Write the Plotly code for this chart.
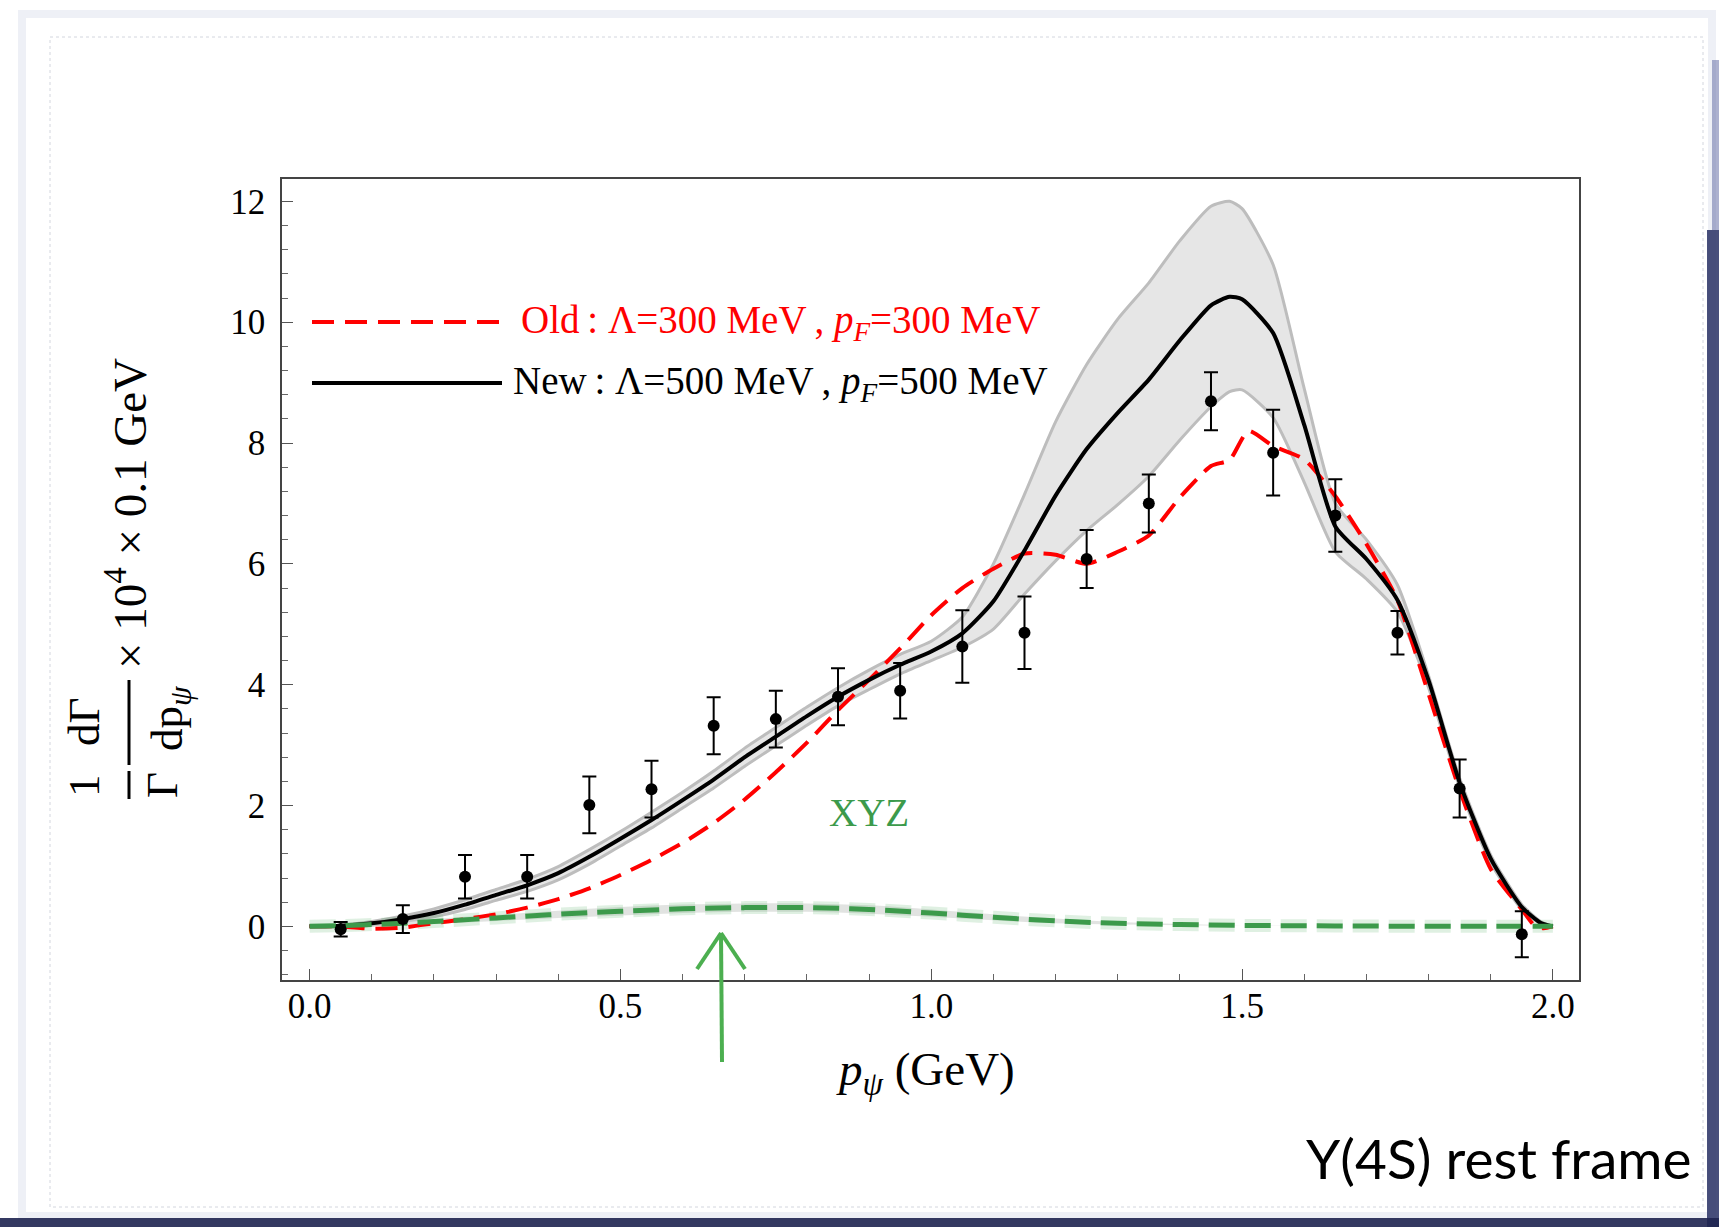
import plotly.graph_objects as go

# ---------------- data ----------------
pts_x = [0.05, 0.15, 0.25, 0.35, 0.45, 0.55, 0.65, 0.75, 0.85, 0.95,
         1.05, 1.15, 1.25, 1.35, 1.45, 1.55, 1.65, 1.75, 1.85, 1.95]
pts_y = [-0.05, 0.12, 0.82, 0.82, 2.01, 2.27, 3.32, 3.43, 3.80, 3.90,
         4.63, 4.86, 6.08, 7.00, 8.69, 7.84, 6.80, 4.86, 2.28, -0.13]
pts_err = [0.12, 0.23, 0.36, 0.36, 0.47, 0.47, 0.47, 0.47, 0.47, 0.46,
           0.60, 0.60, 0.48, 0.48, 0.48, 0.71, 0.60, 0.36, 0.48, 0.38]

new_x = [0.0, 0.05, 0.1, 0.15, 0.2, 0.25, 0.3, 0.35, 0.4, 0.45, 0.5, 0.55, 0.6,
         0.65, 0.7, 0.75, 0.8, 0.85, 0.9, 0.95, 1.0, 1.05, 1.1, 1.15, 1.2, 1.25,
         1.3, 1.35, 1.4, 1.45, 1.48, 1.5, 1.55, 1.6, 1.65, 1.7, 1.75, 1.8, 1.85,
         1.9, 1.95, 1.98, 2.0]
new_y = [0.0, 0.01, 0.05, 0.12, 0.22, 0.36, 0.52, 0.68, 0.88, 1.15, 1.45, 1.76,
         2.09, 2.43, 2.80, 3.14, 3.48, 3.80, 4.08, 4.33, 4.55, 4.85, 5.38, 6.22,
         7.13, 7.90, 8.50, 9.05, 9.70, 10.28, 10.42, 10.38, 9.82, 8.30, 6.62,
         6.08, 5.40, 4.07, 2.38, 1.12, 0.32, 0.06, 0.0]
new_hi = [0.0, 0.02, 0.08, 0.17, 0.29, 0.44, 0.61, 0.78, 0.99, 1.27, 1.57, 1.89,
          2.22, 2.57, 2.95, 3.29, 3.63, 3.95, 4.24, 4.50, 4.72, 5.12, 6.00, 7.15,
          8.35, 9.30, 10.05, 10.65, 11.35, 11.92, 12.0, 11.88, 10.95, 8.90, 7.00,
          6.40, 5.65, 4.15, 2.45, 1.18, 0.36, 0.08, 0.0]
new_lo = [0.0, 0.0, 0.02, 0.08, 0.16, 0.28, 0.43, 0.58, 0.77, 1.03, 1.33, 1.63,
          1.96, 2.29, 2.65, 2.99, 3.33, 3.65, 3.92, 4.18, 4.40, 4.62, 4.92, 5.50,
          6.05, 6.55, 6.98, 7.45, 8.05, 8.60, 8.85, 8.88, 8.42, 7.35, 6.20, 5.75,
          5.20, 3.95, 2.30, 1.05, 0.28, 0.05, 0.0]

old_x = [0.0, 0.05, 0.1, 0.15, 0.2, 0.25, 0.3, 0.35, 0.4, 0.45, 0.5, 0.55, 0.6,
         0.65, 0.7, 0.75, 0.8, 0.85, 0.9, 0.95, 1.0, 1.05, 1.1, 1.15, 1.2, 1.25,
         1.3, 1.35, 1.4, 1.45, 1.48, 1.51, 1.55, 1.6, 1.65, 1.7, 1.75, 1.8, 1.85,
         1.9, 1.95, 1.97, 1.985, 2.0]
old_y = [0.0, 0.0, -0.04, -0.02, 0.05, 0.12, 0.20, 0.31, 0.45, 0.63, 0.85, 1.10,
         1.38, 1.71, 2.10, 2.55, 3.04, 3.58, 4.08, 4.60, 5.15, 5.60, 5.92, 6.17,
         6.15, 6.00, 6.20, 6.47, 7.10, 7.62, 7.72, 8.20, 7.95, 7.73, 7.12, 6.33,
         5.40, 3.85, 2.26, 0.95, 0.28, 0.02, -0.03, 0.0]

xyz_x = [0.0, 0.1, 0.2, 0.3, 0.4, 0.5, 0.6, 0.7, 0.8, 0.9, 1.0, 1.1, 1.2, 1.3,
         1.4, 1.5, 1.6, 1.7, 1.8, 1.9, 2.0]
xyz_y = [0.0, 0.03, 0.08, 0.14, 0.20, 0.25, 0.29, 0.31, 0.31, 0.28, 0.22, 0.15,
         0.09, 0.05, 0.03, 0.015, 0.01, 0.005, 0.0, 0.0, 0.0]
xyz_band = [0.0, 0.02, 0.04, 0.05, 0.06, 0.07, 0.07, 0.07, 0.07, 0.07, 0.06,
            0.05, 0.04, 0.02, 0.01, 0.0, 0.0, 0.0, 0.0, 0.0, 0.0]

y_ticks = [0, 2, 4, 6, 8, 10, 12]

# ---------------- layout geometry ----------------
FW, FH = 1719, 1227
ML, MR, MT, MB = 282, 140, 179, 247
PW = FW - ML - MR
PH = FH - MT - MB


def px(x):
    return (x - ML) / PW


def py(y):
    return (FH - MB - y) / PH


SERIF = "Liberation Serif, Times New Roman, serif"
GREEN = "#3c9a4b"

fig = go.Figure()

# gray uncertainty band of the new curve
fig.add_trace(go.Scatter(x=new_x, y=new_lo, mode="lines",
                         line=dict(color="#bdbdbd", width=3, shape="spline", smoothing=0.6),
                         hoverinfo="skip", showlegend=False))
fig.add_trace(go.Scatter(x=new_x, y=new_hi, mode="lines", fill="tonexty",
                         fillcolor="#e6e6e6",
                         line=dict(color="#bdbdbd", width=3, shape="spline", smoothing=0.6),
                         hoverinfo="skip", showlegend=False))

# XYZ band
xyz_lo = [a - b for a, b in zip(xyz_y, xyz_band)]
xyz_hi = [a + b for a, b in zip(xyz_y, xyz_band)]
fig.add_trace(go.Scatter(x=xyz_x, y=xyz_lo, mode="lines",
                         line=dict(color="rgba(0,0,0,0)", width=0, shape="spline"),
                         hoverinfo="skip", showlegend=False))
fig.add_trace(go.Scatter(x=xyz_x, y=xyz_hi, mode="lines", fill="tonexty",
                         fillcolor="rgba(205,208,205,0.6)",
                         line=dict(color="rgba(0,0,0,0)", width=0, shape="spline"),
                         hoverinfo="skip", showlegend=False))
fig.add_trace(go.Scatter(x=xyz_x, y=xyz_y, mode="lines",
                         line=dict(color="rgba(80,170,95,0.18)", width=13,
                                   dash="26px,10px", shape="spline"),
                         hoverinfo="skip", showlegend=False))

# old (red dashed)
fig.add_trace(go.Scatter(x=old_x, y=old_y, mode="lines", name="Old",
                         line=dict(color="#ff0000", width=4, dash="22px,11px",
                                   shape="spline", smoothing=0.6),
                         showlegend=False))
# new (black)
fig.add_trace(go.Scatter(x=new_x, y=new_y, mode="lines", name="New",
                         line=dict(color="#000000", width=4, shape="spline", smoothing=0.6),
                         showlegend=False))
# XYZ (green dashed)
fig.add_trace(go.Scatter(x=xyz_x, y=xyz_y, mode="lines", name="XYZ",
                         line=dict(color=GREEN, width=5, dash="26px,10px", shape="spline"),
                         showlegend=False))
# data points
fig.add_trace(go.Scatter(x=pts_x, y=pts_y, mode="markers", name="data",
                         marker=dict(color="black", size=12),
                         error_y=dict(type="data", array=pts_err, color="black",
                                      thickness=2, width=7),
                         showlegend=False))

shapes = []
# background torn-paper look
shapes.append(dict(type="rect", xref="paper", yref="paper",
                   x0=px(22), x1=px(1712), y0=py(14), y1=py(1216),
                   line=dict(color="#eef0f6", width=8), fillcolor="rgba(0,0,0,0)",
                   layer="below"))
shapes.append(dict(type="rect", xref="paper", yref="paper",
                   x0=px(50), x1=px(1703), y0=py(37), y1=py(1207),
                   line=dict(color="#d3d6de", width=1, dash="dot"),
                   fillcolor="white", layer="below"))
shapes.append(dict(type="rect", xref="paper", yref="paper",
                   x0=px(1707), x1=px(1719), y0=py(230), y1=py(1227),
                   line=dict(width=0), fillcolor="rgba(40,48,100,0.85)", layer="below"))
shapes.append(dict(type="rect", xref="paper", yref="paper",
                   x0=px(1712), x1=px(1719), y0=py(60), y1=py(230),
                   line=dict(width=0), fillcolor="rgba(90,100,160,0.5)", layer="below"))
shapes.append(dict(type="rect", xref="paper", yref="paper",
                   x0=px(0), x1=px(1719), y0=py(1218), y1=py(1227),
                   line=dict(width=0), fillcolor="rgba(30,36,80,0.9)", layer="below"))

# legend samples
shapes.append(dict(type="line", xref="paper", yref="paper",
                   x0=px(312), x1=px(502), y0=py(322), y1=py(322),
                   line=dict(color="#ff0000", width=4, dash="22px,11px")))
shapes.append(dict(type="line", xref="paper", yref="paper",
                   x0=px(312), x1=px(502), y0=py(383), y1=py(383),
                   line=dict(color="black", width=4)))

# fraction bars of the y title
shapes.append(dict(type="line", xref="paper", yref="paper",
                   x0=px(129), x1=px(129), y0=py(771), y1=py(799),
                   line=dict(color="black", width=3)))
shapes.append(dict(type="line", xref="paper", yref="paper",
                   x0=px(129), x1=px(129), y0=py(680), y1=py(765),
                   line=dict(color="black", width=3)))

# green hand-drawn arrow
AX, ATIP, ATAIL = 721, 933, 1062
shapes.append(dict(type="line", xref="paper", yref="paper",
                   x0=px(AX), x1=px(AX + 1), y0=py(ATIP), y1=py(ATAIL),
                   line=dict(color="#4caf50", width=4)))
shapes.append(dict(type="line", xref="paper", yref="paper",
                   x0=px(AX), x1=px(AX - 24), y0=py(ATIP), y1=py(ATIP + 36),
                   line=dict(color="#4caf50", width=4)))
shapes.append(dict(type="line", xref="paper", yref="paper",
                   x0=px(AX), x1=px(AX + 24), y0=py(ATIP), y1=py(ATIP + 36),
                   line=dict(color="#4caf50", width=4)))

annotations = []


def ann(text, x, y, size, color="black", xanchor="center", yanchor="middle",
        angle=0, family=SERIF):
    annotations.append(dict(text=text, xref="paper", yref="paper",
                            x=px(x), y=py(y), xanchor=xanchor, yanchor=yanchor,
                            showarrow=False, textangle=angle,
                            font=dict(family=family, size=size, color=color)))


ann("Old\u2009: Λ=300 MeV\u2009, <i>p</i><sub><i>F</i></sub>=300 MeV", 519, 322, 39,
    color="#ff0000", xanchor="left")
ann("New\u2009: Λ=500 MeV\u2009, <i>p</i><sub><i>F</i></sub>=500 MeV", 511, 383, 39,
    xanchor="left")
ann("XYZ", 869, 812, 39, color=GREEN)

# y title pieces (rotated)
ann("1", 84, 786, 45, angle=-90)
ann("dΓ", 84, 722, 45, angle=-90)
ann("Γ", 162, 785, 45, angle=-90)
ann("dp<sub><i>ψ</i></sub>", 170, 718, 45, angle=-90)
ann("× 10<sup>4</sup> × 0.1 GeV", 126, 514, 47, angle=-90)

# x title
ann("<i>p</i><sub><i>ψ</i></sub> (GeV)", 925, 1072, 47)

# frame label
ann("Υ(4S) rest frame", 1694, 1158, 55, xanchor="right",
    family="Lato, Open Sans, sans-serif")

fig.update_layout(
    width=FW, height=FH,
    margin=dict(l=ML, r=MR, t=MT, b=MB, pad=0),
    paper_bgcolor="white", plot_bgcolor="white",
    shapes=shapes, annotations=annotations,
    font=dict(family=SERIF, color="black"),
)
fig.update_xaxes(range=[-0.0444, 2.042], tickmode="linear", tick0=0, dtick=0.5,
                 tickformat=".1f", ticks="inside", ticklen=11, tickwidth=1.3,
                 tickcolor="#555", showline=True, linecolor="#444", linewidth=1.5,
                 mirror=True, showgrid=False, zeroline=False,
                 tickfont=dict(family=SERIF, size=35, color="black"),
                 ticklabelstandoff=-6,
                 minor=dict(tickmode="linear", tick0=0, dtick=0.1, ticks="inside",
                            ticklen=6, tickwidth=1, tickcolor="#666", showgrid=False))
fig.update_yaxes(range=[-0.888, 12.37], tickmode="array", tickvals=y_ticks,
                 ticktext=[str(v) for v in y_ticks],
                 ticks="inside", ticklen=11, tickwidth=1.3,
                 tickcolor="#555", showline=True, linecolor="#444", linewidth=1.5,
                 mirror=True, showgrid=False, zeroline=False,
                 tickfont=dict(family=SERIF, size=35, color="black"),
                 ticklabelstandoff=8,
                 minor=dict(tickmode="linear", tick0=0, dtick=0.4, ticks="inside",
                            ticklen=6, tickwidth=1, tickcolor="#666", showgrid=False))

fig.write_html("out.html",
               config={"displayModeBar": False},
               post_script="document.body.style.margin='0';document.body.style.overflow='hidden';")
